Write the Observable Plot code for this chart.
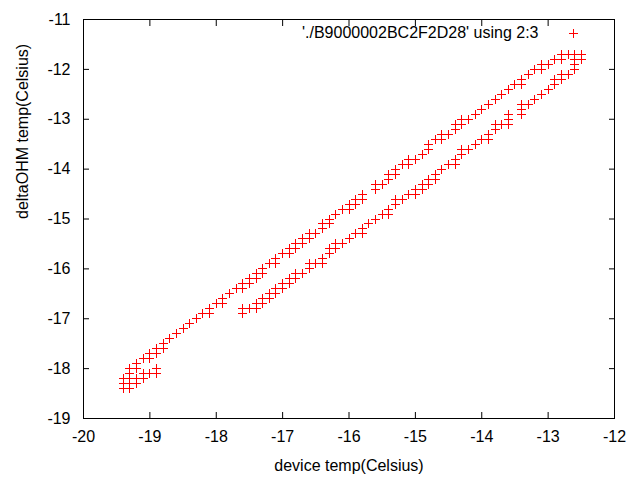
<!DOCTYPE html>
<html>
<head>
<meta charset="utf-8">
<script src="https://cdn.jsdelivr.net/npm/d3@7"></script>
<script src="https://cdn.jsdelivr.net/npm/@observablehq/plot@0.6"></script>
<style>
  html, body { margin: 0; padding: 0; background: white; }
</style>
</head>
<body>
<div id="chart"></div>
<script>
// Tick values
const xTicks = [-20, -19, -18, -17, -16, -15, -14, -13, -12];
const yTicks = [-19, -18, -17, -16, -15, -14, -13, -12, -11];

// Branch A (upper-left trace, including the low cluster)
const branchAX = [-19.4,-19.4,-19.4,-19.3,-19.3,-19.3,-19.3,-19.3,-19.2,-19.2,-19.2,-19.2,-19.1,-19.1,-19.1,-19.0,-19.0,-19.0,-18.9,-18.9,-18.9,-18.9,-18.8,-18.8,-18.7,-18.6,-18.5,-18.4,-18.3,-18.2,-18.1,-18.1,-18.0,-17.9,-17.9,-17.8,
  -17.7,-17.6,-17.6,-17.5,-17.5,-17.4,-17.4,-17.3,-17.3,-17.2,-17.1,-17.1,-17.0,-16.9,-16.9,-16.8,-16.8,-16.7,-16.7,-16.6,-16.6,-16.5,-16.4,-16.4,-16.3,-16.3,-16.2,-16.1,-16.0,-16.0,-15.9,-15.9,-15.8,-15.8,
  -15.6,-15.6,-15.5,-15.4,-15.4,-15.3,-15.3,-15.2,-15.1,-15.1,-15.0,-14.9,-14.8,-14.8,-14.7,-14.6,-14.6,-14.5,-14.4,-14.4,-14.3,-14.3,-14.2,-14.1,-14.0,-13.9,-13.8,-13.7,-13.6,-13.5,-13.4,-13.4,-13.3,-13.2,-13.1,-13.1,-13.0,-12.9,-12.8,-12.8,-12.7,-12.6,-12.5,-12.6,-12.5,-12.6,-12.6];
const branchAY = [-18.2,-18.3,-18.4,-18.0,-18.1,-18.2,-18.3,-18.4,-17.9,-18.0,-18.2,-18.3,-17.8,-18.1,-18.2,-17.7,-17.8,-18.1,-17.6,-17.7,-18.0,-18.1,-17.5,-17.6,-17.4,-17.3,-17.2,-17.1,-17.0,-16.9,-16.8,-16.9,-16.7,-16.6,-16.7,-16.5,
  -16.4,-16.3,-16.4,-16.2,-16.3,-16.1,-16.2,-16.0,-16.1,-15.9,-15.8,-15.9,-15.7,-15.6,-15.7,-15.5,-15.6,-15.4,-15.5,-15.3,-15.4,-15.3,-15.1,-15.2,-15.0,-15.1,-14.9,-14.8,-14.8,-14.7,-14.7,-14.6,-14.6,-14.5,
  -14.3,-14.4,-14.3,-14.2,-14.1,-14.1,-14.0,-13.9,-13.8,-13.9,-13.8,-13.7,-13.6,-13.5,-13.4,-13.4,-13.3,-13.3,-13.1,-13.2,-13.0,-13.1,-13.0,-12.9,-12.8,-12.7,-12.6,-12.5,-12.4,-12.3,-12.3,-12.2,-12.1,-12.0,-12.0,-11.9,-11.9,-11.8,-11.8,-11.7,-11.7,-11.7,-11.7,-11.8,-11.8,-11.9,-12.0];

// Branch B (lower-right trace)
const branchBX = [-17.6,-17.6,-17.5,-17.4,-17.4,-17.3,-17.3,-17.2,-17.2,-17.1,-17.1,-17.0,-17.0,-16.9,-16.9,-16.8,-16.8,-16.7,-16.6,-16.6,-16.5,-16.4,-16.4,-16.3,-16.3,-16.2,-16.2,-16.1,-16.0,-15.9,-15.8,-15.8,-15.7,-15.6,-15.5,-15.4,-15.4,-15.3,-15.3,-15.2,-15.1,-15.0,-15.0,-14.9,-14.9,-14.8,-14.8,-14.7,-14.7,-14.6,-14.5,-14.4,-14.4,-14.3,-14.3,-14.2,-14.1,-14.0,-13.9,-13.9,-13.8,-13.8,-13.7,-13.6,-13.6,-13.6,-13.4,-13.4,-13.4,-13.3,-13.2,-13.1,-13.0,-12.9,-12.9,-12.8,-12.8,-12.7];
const branchBY = [-16.8,-16.9,-16.8,-16.8,-16.7,-16.7,-16.6,-16.6,-16.5,-16.5,-16.4,-16.4,-16.3,-16.3,-16.2,-16.2,-16.1,-16.1,-16.0,-15.9,-15.9,-15.9,-15.8,-15.7,-15.6,-15.6,-15.5,-15.5,-15.4,-15.3,-15.3,-15.2,-15.1,-15.0,-14.9,-14.9,-14.8,-14.7,-14.6,-14.6,-14.5,-14.5,-14.4,-14.4,-14.3,-14.3,-14.2,-14.2,-14.1,-14.0,-13.9,-13.9,-13.8,-13.7,-13.6,-13.6,-13.5,-13.4,-13.4,-13.3,-13.2,-13.1,-13.1,-13.1,-13.0,-12.9,-12.9,-12.8,-12.7,-12.7,-12.6,-12.5,-12.4,-12.3,-12.2,-12.2,-12.1,-12.1];

const legendLabel = "'./B9000002BC2F2D28' using 2:3";
const xLabel = "device temp(Celsius)";
const yLabel = "deltaOHM temp(Celsius)";

const points = [
  ...branchAX.map((x, i) => ({x, y: branchAY[i]})),
  ...branchBX.map((x, i) => ({x, y: branchBY[i]}))
];

// gnuplot-style "+" point (line cross)
const plusSymbol = {
  draw(context, size) {
    const r = Math.sqrt(size / Math.PI);
    context.moveTo(-r, 0); context.lineTo(r, 0);
    context.moveTo(0, -r); context.lineTo(0, r);
  }
};

const fmt = d => String(d);
const blank = () => "";

const chart = Plot.plot({
  width: 640,
  height: 480,
  marginLeft: 83,
  marginRight: 26,
  marginTop: 19,
  marginBottom: 62,
  x: {domain: [-20, -12]},
  y: {domain: [-19, -11]},
  style: {
    background: "white",
    color: "black",
    fontFamily: "'Liberation Sans', Arial, sans-serif",
    fontSize: "16px"
  },
  marks: [
    Plot.axisX({anchor: "bottom", ticks: xTicks, tickSize: 0, tickPadding: 12, tickFormat: fmt, label: null}),
    Plot.axisX({anchor: "bottom", ticks: xTicks, tickSize: -6, tickFormat: blank, label: null}),
    Plot.axisX({anchor: "top", ticks: xTicks, tickSize: -6, tickFormat: blank, label: null}),
    Plot.axisY({anchor: "left", ticks: yTicks, tickSize: 0, tickPadding: 13, tickFormat: fmt, label: null}),
    Plot.axisY({anchor: "left", ticks: yTicks, tickSize: -6, tickFormat: blank, label: null}),
    Plot.axisY({anchor: "right", ticks: yTicks, tickSize: -6, tickFormat: blank, label: null}),
    Plot.frame({stroke: "black"}),
    Plot.dot(points, {x: "x", y: "y", symbol: plusSymbol, r: 4.5, stroke: "#ff0000", fill: "none", strokeWidth: 1, shapeRendering: "crispEdges"}),
    Plot.text([xLabel], {text: d => d, frameAnchor: "bottom", dy: 47, lineAnchor: "middle"}),
    Plot.text([yLabel], {text: d => d, frameAnchor: "left", dx: -61, rotate: -90, lineAnchor: "middle"}),
    Plot.text([legendLabel], {text: d => d, frameAnchor: "top-right", dx: -76, dy: 13, textAnchor: "end", lineAnchor: "middle"}),
    Plot.dot([legendLabel], {frameAnchor: "top-right", dx: -41, dy: 14, symbol: plusSymbol, r: 4.5, stroke: "#ff0000", fill: "none", strokeWidth: 1, shapeRendering: "crispEdges"})
  ]
});
document.getElementById("chart").appendChild(chart);
</script>
</body>
</html>
